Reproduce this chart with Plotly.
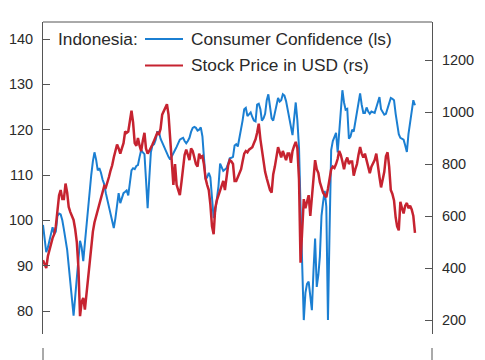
import pandas as pd
import plotly.graph_objects as go

start_month = "2006-11-01"

consumer_confidence = [
    99, 96, 93, 94, 95.5, 97, 98.5, 97, 97.5, 101, 101.5, 101.3, 100, 98, 96, 93.5, 90, 86, 82, 79,
    83, 87.5, 91.5, 95.5, 94, 91, 95, 99, 103, 106.5, 110, 113, 115, 113.4, 111, 111.5, 110.5, 109, 108, 106,
    104.5, 102.5, 101, 99.5, 98.3, 100.5, 104, 106, 103.8, 105, 106, 106.3, 106.6, 105.5, 108, 111, 111.5, 111.3, 112, 112.2,
    114, 115.5, 115, 114.6, 109, 102.7, 109, 115, 116.5, 116.8, 117.8, 119.5, 119.5, 118, 117.2, 116.3, 115.6, 115, 114, 113.4,
    114.2, 114.9, 115.5, 116.2, 117, 117.8, 118, 118.2, 117.5, 117, 117.5, 118.2, 119.5, 120.4, 120.6, 120.4, 119.8, 120, 120.5, 118.5,
    114, 109, 109.5, 110.5, 109.5, 105, 100.5, 102, 104.5, 107.5, 112.5, 111.5, 110.9, 111.2, 111.5, 112.5, 113.7, 113.8, 114, 116.5,
    116.8, 116.3, 118, 120, 122, 124.5, 124.8, 123, 123.3, 123.8, 122.8, 122, 121.8, 125.5, 125.7, 124.5, 122, 122.5, 123.5, 126.5,
    127.8, 125.2, 122.5, 122, 123.8, 125.5, 127, 126.2, 126.5, 127.8, 127.5, 126.3, 124.5, 123.3, 121, 118.8, 122.5, 126, 122, 116,
    103, 89, 78, 84, 86, 86.5, 83, 80.2, 89, 96, 85.3, 88, 92, 101, 104, 106.5, 103, 78, 98, 115.5,
    117.5, 118.5, 119.3, 115, 120, 124, 128.7, 126, 124.4, 124.6, 118, 118.5, 120, 119.6, 121.8, 124, 126, 128, 125.5, 123.7,
    123.7, 124.9, 124, 123.5, 124, 123.8, 123.7, 124.9, 126, 127.2, 124.5, 124, 123.3, 123.5, 124.6, 125.5, 127, 126.8, 126.5, 123.5,
    121.5, 119, 118.2, 118, 117.8, 116.5, 115.1, 119, 121.5, 123.7, 126.5, 125.4,
]

stock_price_usd = [
    430, 415, 400, 445, 470, 490, 515, 530, 560, 620, 680, 700, 665, 665, 725, 690, 635, 615, 600, 585,
    550, 500, 400, 215, 270, 285, 240, 300, 360, 435, 490, 540, 575, 600, 625, 650, 665, 690, 715, 710,
    735, 750, 775, 795, 825, 850, 875, 860, 840, 860, 880, 925, 920, 925, 960, 1005, 960, 880, 870, 900,
    870, 850, 890, 920, 860, 840, 850, 860, 875, 890, 905, 920, 915, 935, 990, 1005, 1020, 1030, 990, 900,
    800, 720, 800, 720, 700, 680, 730, 800, 835, 855, 830, 815, 860, 850, 825, 800, 790, 840, 825, 830,
    800, 745, 720, 700, 645, 560, 530, 630, 660, 680, 700, 725, 735, 700, 760, 795, 815, 810, 800, 735,
    735, 750, 765, 780, 810, 840, 850, 845, 855, 862, 865, 880, 895, 920, 955, 895, 850, 810, 770, 745,
    725, 700, 690, 760, 790, 820, 865, 845, 825, 850, 830, 815, 840, 840, 805, 850, 870, 885, 860, 740,
    420, 560, 665, 630, 650, 680, 600, 680, 740, 815, 780, 765, 730, 705, 690, 680, 672, 705, 750, 780,
    790, 785, 800, 820, 850, 835, 810, 780, 810, 825, 800, 810, 810, 755, 780, 800, 835, 865, 840, 825,
    840, 815, 790, 765, 790, 805, 815, 840, 790, 750, 710, 735, 770, 830, 845, 790, 700, 685, 660, 595,
    560, 545, 655, 630, 610, 640, 650, 630, 640, 625, 600, 535,
]

left_ticks = [80, 90, 100, 110, 120, 130, 140]
right_ticks = [200, 400, 600, 800, 1000, 1200]

months = pd.date_range(start_month, periods=len(consumer_confidence), freq="MS")

BLUE = "#1b7fd2"
RED = "#c62330"
AXIS = "#555555"
TXT = "#2a2a2a"
FONT = "Arial, Liberation Sans, sans-serif"

fig = go.Figure()
fig.add_trace(go.Scatter(x=months, y=stock_price_usd, yaxis="y2", mode="lines",
                         name="Stock Price in USD (rs)", line=dict(color=RED, width=2.5)))
fig.add_trace(go.Scatter(x=months, y=consumer_confidence, mode="lines",
                         name="Consumer Confidence (ls)", line=dict(color=BLUE, width=2)))

W, H = 485, 360
L, R, T, B = 43, 432, 22, 334


def px(xp):
    return (xp - L) / (R - L)


def py(yp):
    return (B - yp) / (B - T)


fig.update_layout(
    width=W, height=H,
    margin=dict(l=L, r=W - R, t=T, b=H - B, pad=0, autoexpand=False),
    paper_bgcolor="white", plot_bgcolor="white",
    showlegend=False,
    font=dict(family=FONT, color=TXT, size=14),
    xaxis=dict(range=["2006-11-01", "2026-12-20"], showgrid=False, zeroline=False,
               showticklabels=False, ticks="", showline=False),
    yaxis=dict(range=[74.93, 143.75], tickvals=left_ticks, showgrid=False, zeroline=False,
               showline=True, linecolor=AXIS, linewidth=1, ticks="inside", ticklen=7,
               tickcolor=AXIS, ticklabelstandoff=6, tickfont=dict(size=14.5, color=TXT)),
    yaxis2=dict(range=[146.2, 1346.2], tickvals=right_ticks, overlaying="y", side="right",
                showgrid=False, zeroline=False, showline=True, linecolor=AXIS, linewidth=1,
                ticks="inside", ticklen=7, tickcolor=AXIS, ticklabelstandoff=6,
                tickfont=dict(size=14.5, color=TXT)),
)

shapes = [
    dict(type="line", xref="paper", yref="paper", x0=0, x1=1, y0=1, y1=1,
         line=dict(color=AXIS, width=1)),
    dict(type="line", xref="paper", yref="paper", x0=0, x1=0, y0=py(348), y1=py(362),
         line=dict(color=AXIS, width=1)),
    dict(type="line", xref="paper", yref="paper", x0=1, x1=1, y0=py(348), y1=py(362),
         line=dict(color=AXIS, width=1)),
    dict(type="line", xref="paper", yref="paper", x0=px(145), x1=px(183), y0=py(39), y1=py(39),
         line=dict(color=BLUE, width=2)),
    dict(type="line", xref="paper", yref="paper", x0=px(145), x1=px(183), y0=py(65.5), y1=py(65.5),
         line=dict(color=RED, width=2)),
]
fig.update_layout(shapes=shapes)

annos = [
    dict(text="Indonesia:", x=px(56), y=py(38.5)),
    dict(text="Consumer Confidence (ls)", x=px(189), y=py(38.5)),
    dict(text="Stock Price in USD (rs)", x=px(189), y=py(65)),
]
for a in annos:
    fig.add_annotation(xref="paper", yref="paper", xanchor="left", yanchor="middle",
                       showarrow=False, font=dict(family=FONT, size=17.3, color=TXT), **a)

fig.write_html(
    "out.html",
    config={"displayModeBar": False},
    post_script="document.body.style.margin='0';document.body.style.overflow='hidden';",
)
